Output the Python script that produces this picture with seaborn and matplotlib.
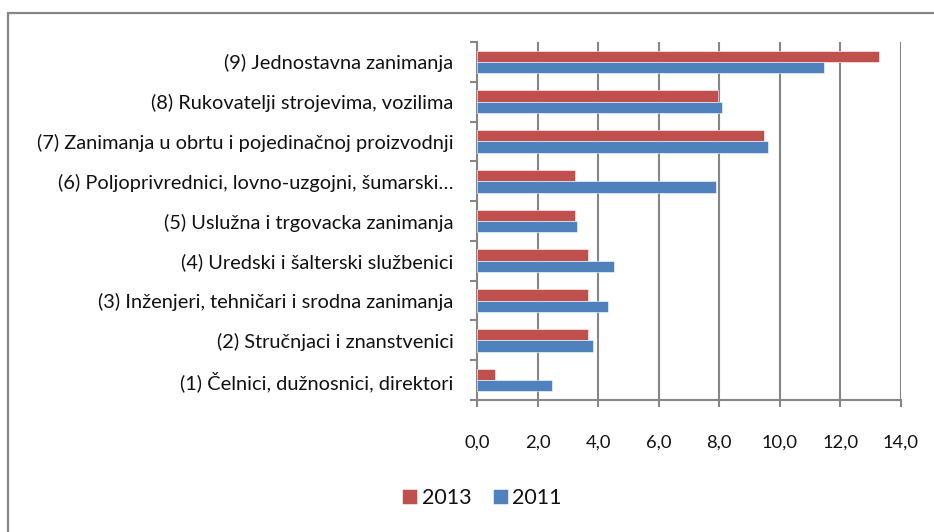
import matplotlib
matplotlib.use("Agg")
import matplotlib.pyplot as plt
import seaborn as sns
import pandas as pd
from matplotlib.patches import Rectangle
from matplotlib.ticker import FixedLocator

# Data
categories = [
    "(9) Jednostavna zanimanja",
    "(8) Rukovatelji strojevima, vozilima",
    "(7) Zanimanja u obrtu i pojedinačnoj proizvodnji",
    "(6) Poljoprivrednici, lovno-uzgojni, šumarski…",
    "(5) Uslužna i trgovacka zanimanja",
    "(4) Uredski i šalterski službenici",
    "(3) Inženjeri, tehničari i srodna zanimanja",
    "(2) Stručnjaci i znanstvenici",
    "(1) Čelnici, dužnosnici, direktori",
]
values_2013 = [13.28, 7.95, 9.48, 3.24, 3.22, 3.65, 3.68, 3.65, 0.60]
values_2011 = [11.45, 8.08, 9.62, 7.89, 3.31, 4.54, 4.31, 3.84, 2.46]
years = ["2013", "2011"]
colors = ["#C0504D", "#4F81BD"]

df = pd.DataFrame({
    "cat": categories * 2,
    "val": values_2013 + values_2011,
    "year": ["2013"] * len(categories) + ["2011"] * len(categories),
})

sns.set_style("white")
plt.rcParams["font.family"] = ["Lato", "DejaVu Sans"]
grid_c = "#868686"
text_c = "#111111"

fig = plt.figure(figsize=(9.34, 5.32), dpi=100)
ax = fig.add_axes([477 / 934, 1 - 400 / 532, 424 / 934, 358 / 532])

sns.barplot(data=df, x="val", y="cat", hue="year", hue_order=years,
            order=categories, palette=colors, saturation=1, orient="h",
            width=0.57, edgecolor="white", linewidth=0.4, ax=ax, zorder=3)

ax.set_xlim(0, 14)
ax.set_ylim(8.5, -0.5)
ax.set_xticks(range(0, 15, 2))
ax.set_xticklabels([f"{v},0" for v in range(0, 15, 2)], fontsize=13.2)
ax.grid(axis="x", color=grid_c, linewidth=1.5, zorder=0)
ax.set_xlabel("")
ax.set_ylabel("")
ax.tick_params(axis="y", length=0, pad=17, labelsize=14.4, labelcolor=text_c)
ax.yaxis.set_minor_locator(FixedLocator([i - 0.5 for i in range(len(categories) + 1)]))
ax.tick_params(axis="y", which="minor", length=5, width=1.5, color=grid_c, direction="out", left=True)
ax.tick_params(axis="x", length=5, width=1.5, color=grid_c, direction="out", bottom=True,
               pad=20, labelcolor=text_c)
for s in ["top", "right"]:
    ax.spines[s].set_visible(False)
for s in ["left", "bottom"]:
    ax.spines[s].set_color(grid_c)
    ax.spines[s].set_linewidth(1.5)

leg = ax.legend(loc="center", bbox_to_anchor=(482 / 934, 1 - 498 / 532),
                bbox_transform=fig.transFigure, ncol=2, frameon=False,
                fontsize=15.5, handlelength=0.7, handleheight=0.7,
                handletextpad=0.2, columnspacing=1.0)
for t in leg.get_texts():
    t.set_color(text_c)

# outer chart border (cut off at right and bottom like the reference)
fig.patches.append(Rectangle((8 / 934, -0.1), 1.2, 1.1 - 13 / 532,
                             transform=fig.transFigure, fill=False,
                             edgecolor=grid_c, linewidth=1.6))

fig.savefig("out.png", dpi=100)
